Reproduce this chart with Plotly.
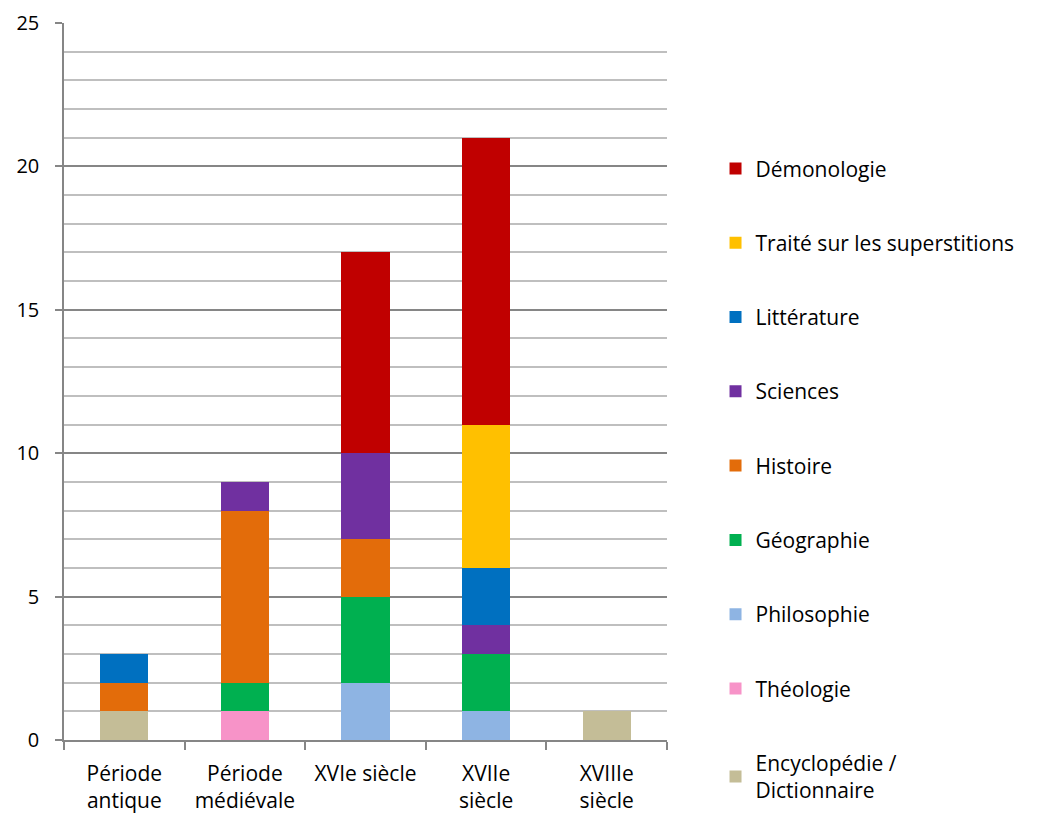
import plotly.graph_objects as go

categories = ["Période<br>antique", "Période<br>médiévale", "XVIe siècle", "XVIIe<br>siècle", "XVIIIe<br>siècle"]

encyclopedie = [1, 0, 0, 0, 1]
theologie = [0, 1, 0, 0, 0]
philosophie = [0, 0, 2, 1, 0]
geographie = [0, 1, 3, 2, 0]
histoire = [1, 6, 2, 0, 0]
sciences = [0, 1, 3, 1, 0]
litterature = [1, 0, 0, 2, 0]
traite = [0, 0, 0, 5, 0]
demonologie = [0, 0, 7, 10, 0]

series = [
    ("Encyclopédie /<br>Dictionnaire", encyclopedie, "#C4BD97"),
    ("Théologie", theologie, "#F793C8"),
    ("Philosophie", philosophie, "#8EB4E3"),
    ("Géographie", geographie, "#00B050"),
    ("Histoire", histoire, "#E36C0A"),
    ("Sciences", sciences, "#7030A0"),
    ("Littérature", litterature, "#0070C0"),
    ("Traité sur les superstitions", traite, "#FFC000"),
    ("Démonologie", demonologie, "#C00000"),
]

fig = go.Figure()
n = len(series)
for i, (name, vals, color) in enumerate(series):
    fig.add_trace(go.Bar(
        x=categories, y=vals, name=name, legendgroup=f"g{i}",
        legendrank=100 + (n - i),
        marker=dict(color=color, line=dict(width=0)),
        width=0.4,
    ))

font_family = "'Open Sans', 'Noto Sans', sans-serif"
fig.update_layout(
    barmode="stack",
    width=1040, height=819,
    margin=dict(l=64, r=373, t=23, b=79),
    paper_bgcolor="white", plot_bgcolor="white",
    font=dict(family=font_family, size=21, color="black"),
    showlegend=True,
    legend=dict(
        traceorder="grouped",
        tracegroupgap=44,
        xref="container", yref="container",
        x=0.688, xanchor="left", y=0.819, yanchor="top",
        font=dict(size=21, family=font_family),
        itemwidth=30,
        maxheight=819,
    ),
    xaxis=dict(
        automargin=False,
        showline=True, linecolor="#868686", linewidth=1.5,
        ticks="outside", tickson="boundaries", ticklen=8, tickcolor="#868686", tickwidth=1.5,
        tickfont=dict(size=21),
        ticklabelstandoff=14,
    ),
    yaxis=dict(
        automargin=False,
        range=[0, 25], dtick=5, tick0=0,
        showline=True, linecolor="#868686", linewidth=1.5,
        ticks="outside", ticklen=7, tickcolor="#868686", tickwidth=1.5,
        showgrid=True, gridcolor="#868686", gridwidth=1.5,
        zeroline=False,
        minor=dict(dtick=1, showgrid=True, gridcolor="#BFBFBF", gridwidth=1.5),
        tickfont=dict(size=20),
        ticklabelstandoff=12,
    ),
)

fig.write_html("out.html")
